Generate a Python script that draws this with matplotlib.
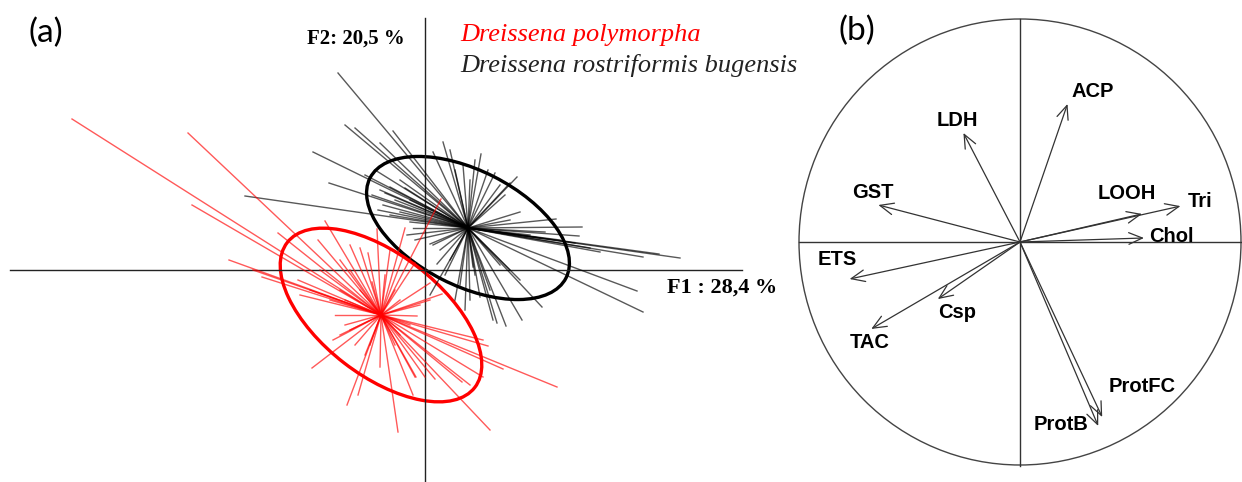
import numpy as np
import matplotlib.pyplot as plt
from matplotlib.patches import Ellipse, Circle

# ---- panel (a): individual scores on F1/F2, joined to their group centroid ----
dp_centre = (-0.88, -0.90)   # Dreissena polymorpha
dp_f1 = [-7.06, -4.74, -4.66, -3.92, -3.44, -3.26, -2.54, -2.94, -2.14, -2.00,
         -1.50, -1.30, -1.14, -0.96, -0.70, -0.44, -0.40, -0.20, 0.32, 0.10,
         0.34, -1.80, -0.16, -1.84, -2.26, -1.56, -1.34, -0.90, -0.54, -0.24,
         -0.20, 1.16, 1.26, 2.64, 1.56, 1.16, 0.90, 1.30, 0.74, 0.20,
         -0.18, 0.00, -1.70, -1.60, -1.90, -1.50, -1.70, -1.40, -1.20, -1.10,
         -0.60, -0.50, -0.30, -0.50, -0.60, -1.06, -0.80, -1.30, -0.10, 0.10,
         -1.50, -1.70, -2.10, -1.60, -2.50, -2.30]
dp_f2 = [3.02, 2.74, 1.30, 0.20, 0.00, -0.14, -0.20, 0.74, 0.60, 0.98,
         0.50, 0.44, 0.34, 0.82, 0.40, 0.26, 0.84, 0.14, 1.42, -0.26,
         -0.48, -0.90, -0.92, -1.40, -1.96, -2.70, -2.50, -1.94, -3.24, -2.50,
         -2.14, -1.40, -1.52, -2.34, -1.98, -2.14, -2.30, -3.20, -2.24, -2.18,
         -2.14, -2.14, -0.40, -0.60, -0.60, -1.20, -1.30, -1.50, -1.70, -1.50,
         -1.50, -1.30, -1.10, -0.60, -0.40, -0.24, -0.10, -0.40, -0.70, -0.60,
         0.00, 0.20, 0.00, -1.10, -0.50, -0.40]

drb_centre = (0.86, 0.84)    # Dreissena rostriformis bugensis
drb_f1 = [-1.74, -1.60, -1.40, -0.64, -0.90, -2.24, -1.92, -3.60, -0.40, 0.36,
          0.16, 0.50, -0.90, -0.80, -1.06, -0.70, -0.60, -0.84, -0.94, -0.50,
          -0.70, -0.30, -0.24, -0.36, -0.20, 0.10, 0.60, 0.76, 0.90, 1.00,
          1.12, 1.26, 1.40, 1.50, 1.70, 1.60, 1.84, 1.90, 1.70, 2.62,
          3.14, 3.08, 3.50, 4.36, 4.68, 5.10, 2.70, 2.30, 2.10, 3.00,
          3.30, 2.40, 4.24, 4.36, 2.34, 1.94, 1.62, 1.44, 1.36, 1.10,
          1.70, 1.90, 1.50, 1.30, 0.90, 1.00, 0.96, 0.10, 0.16, 0.24,
          0.70, 0.50, 0.40, 0.60, 0.80, 0.30,
          -1.20, -1.00, -0.50, -0.30]
drb_f2 = [3.94, 2.90, 2.84, 2.78, 2.54, 2.36, 1.74, 1.48, 1.64, 2.56,
          2.36, 2.40, 1.60, 1.54, 1.50, 1.66, 1.40, 1.30, 1.20, 1.16,
          1.10, 0.96, 0.84, 0.70, 0.60, 0.52, 2.00, 2.10, 1.80, 2.20,
          2.32, 2.00, 1.94, 1.70, 1.74, 1.50, 1.86, 1.16, 1.00, 1.02,
          0.86, 0.68, 0.36, 0.26, 0.32, 0.24, 0.60, 0.64, 0.70, 0.54,
          0.44, 0.76, -0.42, -0.84, -0.74, -1.00, -1.12, -1.06, -1.00, -0.54,
          0.00, -0.20, 0.10, -0.40, -0.60, -0.10, 0.06, -0.50, 0.50, 0.12,
          -0.30, 0.20, -0.10, -0.60, -0.80, 0.40,
          1.90, 2.00, 1.80, 1.40]

# confidence ellipses: width, height, angle (deg)
dp_ellipse = (4.74, 2.42, -37.7)
drb_ellipse = (4.40, 2.30, -27.0)

# ---- panel (b): correlation circle ----
variables = ['LDH', 'ACP', 'GST', 'LOOH', 'Tri', 'Chol', 'ETS', 'Csp', 'TAC', 'ProtFC', 'ProtB']
corr_f1 = [-0.256, 0.215, -0.641, 0.552, 0.726, 0.561, -0.771, -0.372, -0.673, 0.372, 0.354]
corr_f2 = [0.489, 0.619, 0.166, 0.126, 0.161, 0.018, -0.166, -0.256, -0.390, -0.785, -0.825]

# label offsets from arrow tips (points)
label_offset = {'LDH': (-4, 9), 'ACP': (18, 9), 'GST': (-4, 9), 'LOOH': (-11, 15),
                'Tri': (14, 3), 'Chol': (20, 1), 'ETS': (-9, 14), 'Csp': (14, -10),
                'TAC': (-1, -10), 'ProtFC': (29, 22), 'ProtB': (-27, 1)}

W, H = 1242, 482
fig = plt.figure(figsize=(W / 100, H / 100), dpi=100)

# panel (a), 1 unit = 50 px, origin at pixel (425, 270)
ax = fig.add_axes([0, 0, 790 / W, 1])
ax.set_xlim((0 - 425) * 0.02, (790 - 425) * 0.02)
ax.set_ylim((270 - 482) * 0.02, 270 * 0.02)
ax.axis('off')

ax.plot([-8.3, 6.34], [0, 0], color='#222222', lw=1.0)
ax.plot([0, 0], [-4.3, 5.04], color='#222222', lw=1.0)

for x, y in zip(drb_f1, drb_f2):
    ax.plot([drb_centre[0], x], [drb_centre[1], y], color='black', lw=1.0, alpha=0.65)
for x, y in zip(dp_f1, dp_f2):
    ax.plot([dp_centre[0], x], [dp_centre[1], y], color='red', lw=1.0, alpha=0.65)

w, h, a = drb_ellipse
ax.add_patch(Ellipse(drb_centre, w, h, angle=a, fill=False, ec='black', lw=2.4))
w, h, a = dp_ellipse
ax.add_patch(Ellipse(dp_centre, w, h, angle=a, fill=False, ec='red', lw=2.4))

serif = 'Liberation Serif'
ax.text(-0.40, 4.52, 'F2: 20,5 %', family=serif, weight='bold', fontsize=15,
        ha='right', va='baseline')
ax.text(4.84, -0.46, 'F1 : 28,4 %', family=serif, weight='bold', fontsize=16,
        ha='left', va='baseline')
ax.text(0.70, 4.58, 'Dreissena polymorpha', family=serif, style='italic',
        fontsize=19, color='red', ha='left', va='baseline')
ax.text(0.70, 3.96, 'Dreissena rostriformis bugensis', family=serif, style='italic',
        fontsize=19, color='#222222', ha='left', va='baseline')

# panel (b), centre at pixel (1020, 242)
bx = fig.add_axes([790 / W, 0, (W - 790) / W, 1])
bx.set_xlim((790 - 1020) / 221, (W - 1020) / 221)
bx.set_ylim((242 - 482) / 223, 242 / 223)
bx.axis('off')

bx.add_patch(Circle((0, 0), 1.0, fill=False, ec='#444444', lw=1.0, clip_on=False))
bx.plot([-1, 1], [0, 0], color='#333333', lw=1.0)
bx.plot([0, 0], [-1.005, 1], color='#333333', lw=1.0)

for name, x, y in zip(variables, corr_f1, corr_f2):
    bx.annotate('', xy=(x, y), xytext=(0, 0),
                arrowprops=dict(arrowstyle='->,head_length=0.7,head_width=0.3',
                                color='#333333', lw=0.9, shrinkA=0, shrinkB=0,
                                mutation_scale=14))
    bx.annotate(name, xy=(x, y), xytext=label_offset[name], textcoords='offset points',
                ha='center', va='center', fontsize=14.5, weight='bold',
                family='Liberation Sans')

fig.text(28 / W, 1 - 33 / H, '(a)', fontsize=24, family='Lato', ha='left', va='center')
fig.text(838 / W, 1 - 31 / H, '(b)', fontsize=24, family='Lato', ha='left', va='center')

fig.savefig('out.png', dpi=100)
